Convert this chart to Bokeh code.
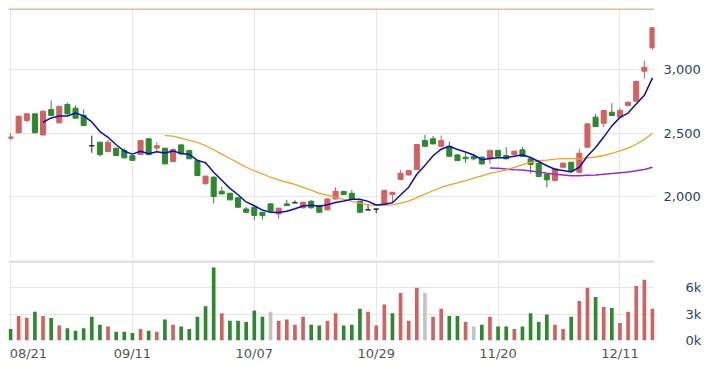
import numpy as np
import pandas as pd
from bokeh.plotting import figure
from bokeh.layouts import column
from bokeh.models import ColumnDataSource, FixedTicker, Span, Range1d, NumeralTickFormatter
from bokeh.embed import file_html
from bokeh.resources import INLINE

# ---------------- data ----------------
tick_idx = [0, 15, 30, 45, 60, 75]
tick_labels = ["08/21", "09/11", "10/07", "10/29", "11/20", "12/11"]

open_px = [2460, 2502, 2600, 2652, 2486, 2686, 2581, 2726, 2697, 2640,
           2400, 2428, 2355, 2381, 2362, 2322, 2331, 2455, 2382, 2381,
           2276, 2407, 2362, 2283, 2100, 2152, 2041, 2025, 1989, 1901,
           1915, 1875, 1941, 1862, 1941, 1950, 1910, 1962, 1928, 1894,
           1980, 2039, 2025, 1962, 1894, 1900, 1936, 2015, 2135, 2170,
           2212, 2441, 2455, 2396, 2396, 2328, 2310, 2317, 2310, 2297,
           2362, 2323, 2331, 2368, 2297, 2263, 2173, 2125, 2231, 2270,
           2191, 2389, 2626, 2578, 2665, 2626, 2718, 2752, 2989, 3174]
high_px = [2500, 2640, 2660, 2660, 2680, 2757, 2715, 2739, 2720, 2686,
           2480, 2432, 2447, 2385, 2381, 2330, 2445, 2460, 2428, 2385,
           2380, 2412, 2370, 2290, 2165, 2160, 2078, 2030, 1995, 1920,
           1920, 1880, 1950, 1910, 1973, 1968, 1958, 1970, 1932, 1985,
           2073, 2045, 2050, 1968, 1940, 1902, 2055, 2035, 2210, 2210,
           2412, 2486, 2478, 2481, 2434, 2332, 2344, 2335, 2315, 2365,
           2370, 2389, 2360, 2390, 2300, 2270, 2178, 2222, 2268, 2272,
           2376, 2578, 2652, 2685, 2736, 2700, 2750, 2915, 3073, 3335]
low_px = [2445, 2500, 2585, 2500, 2480, 2635, 2580, 2648, 2615, 2555,
          2345, 2315, 2350, 2320, 2300, 2280, 2328, 2325, 2355, 2255,
          2270, 2330, 2295, 2160, 2095, 1946, 2018, 1970, 1912, 1872,
          1815, 1818, 1880, 1823, 1925, 1950, 1905, 1905, 1872, 1890,
          1975, 2010, 1978, 1872, 1892, 1868, 1932, 1955, 2128, 2165,
          2208, 2392, 2412, 2392, 2315, 2280, 2265, 2285, 2250, 2257,
          2315, 2293, 2328, 2312, 2183, 2155, 2073, 2120, 2228, 2195,
          2188, 2385, 2548, 2547, 2636, 2620, 2712, 2748, 2929, 3158]
close_px = [2470, 2633, 2652, 2502, 2673, 2640, 2712, 2652, 2618, 2560,
            2400, 2330, 2428, 2323, 2305, 2285, 2441, 2330, 2400, 2257,
            2370, 2336, 2297, 2165, 2160, 2000, 2020, 1973, 1915, 1875,
            1850, 1849, 1883, 1907, 1928, 1950, 1954, 1910, 1875, 1980,
            2041, 2015, 1980, 1875, 1894, 1900, 2046, 2033, 2183, 2204,
            2410, 2396, 2415, 2441, 2317, 2283, 2298, 2297, 2257, 2362,
            2317, 2297, 2357, 2315, 2252, 2157, 2131, 2218, 2263, 2200,
            2341, 2573, 2552, 2678, 2640, 2678, 2744, 2908, 3021, 3332]
volume = [1300, 2800, 2600, 3260, 2800, 2550, 1700, 1400, 1100, 1400,
          2700, 1800, 1600, 1000, 1000, 860, 1300, 1100, 1000, 2400,
          1800, 1600, 1300, 2700, 3900, 8300, 3100, 2250, 2250, 2100,
          3400, 2700, 3260, 2250, 2400, 1800, 2700, 1800, 1700, 2250,
          3100, 1700, 1800, 3600, 3260, 1700, 4100, 3100, 5400, 2250,
          6000, 5400, 2700, 3600, 2800, 2800, 2100, 1600, 1800, 2700,
          1600, 1600, 1300, 1600, 3100, 2100, 2960, 1800, 1300, 2700,
          4500, 6000, 4950, 3800, 3700, 2000, 3260, 6200, 6900, 3600]
# r = up vs previous close, g = down, n = unchanged
vol_dir = list("grrgrgrggg" "ggrgggrgrg" "rgggggrggg" "ggnrrrrggr"
               "rgggrrrgrr" "rnrrggrngr" "ggrggggrrg" "rrgrgrrrrr")

upper_line = 3480
vol_ticks = [0, 3000, 6000]
vol_tick_labels = ["0k", "3k", "6k"]
price_ticks = [2000, 2500, 3000]

# ---------------- styles ----------------
RED = "#d4605f"
GREEN = "#2b8a2b"
BLACK = "#222222"
GRAY = "#c3c3c3"
GRID = "#e6e6e6"
FONT = "DejaVu Sans"

n = len(close_px)
idx = list(range(n))
cand_colors = [RED if c > o else (GREEN if c < o else BLACK) for o, c in zip(open_px, close_px)]
src = ColumnDataSource(dict(
    x=idx, o=open_px, h=high_px, l=low_px, c=close_px,
    top=[max(o, c) for o, c in zip(open_px, close_px)],
    bottom=[min(o, c) for o, c in zip(open_px, close_px)],
    color=cand_colors))

cs = pd.Series(close_px, dtype=float)
ma5 = cs.rolling(5).mean()
ma20 = cs.rolling(20).mean()
ma60 = cs.rolling(60).mean()

xr = Range1d(-0.25, 79.25)
W = 705

# ---------------- price panel ----------------
p = figure(width=W, height=258, x_range=xr, y_range=Range1d(1510, 3484),
           output_backend="svg", toolbar_location=None,
           x_axis_location=None, y_axis_location="right",
           min_border_left=8, min_border_right=51, min_border_top=8, min_border_bottom=0)
p.outline_line_color = None
p.background_fill_color = "white"
p.border_fill_color = "white"
p.xgrid.ticker = FixedTicker(ticks=tick_idx)
p.ygrid.ticker = FixedTicker(ticks=price_ticks)
p.grid.grid_line_color = GRID
p.grid.grid_line_width = 1

ax = p.yaxis[0]
ax.ticker = FixedTicker(ticks=price_ticks)
ax.formatter = NumeralTickFormatter(format="0,0")
ax.axis_line_color = None
ax.major_tick_line_color = None
ax.minor_tick_line_color = None
ax.major_tick_out = 0
ax.major_tick_in = 0
ax.minor_tick_out = 0
ax.major_label_standoff = 9
ax.major_label_text_font = FONT
ax.major_label_text_font_size = "13px"
ax.major_label_text_color = "#24466e"

p.add_layout(Span(location=upper_line, dimension="width", line_color="#c4ae82", line_width=1.5))

p.segment(x0="x", y0="l", x1="x", y1="h", line_color="color", line_width=1, source=src)
p.vbar(x="x", width=0.62, top="top", bottom="bottom", fill_color="color",
       line_color="color", line_width=1, source=src)

p.line(idx, ma60.values, line_color="#9a28d6", line_width=1.5)
p.line(idx, ma20.values, line_color="#f4a21e", line_width=1.3)
p.line(idx, ma5.values, line_color="#0c0cc4", line_width=1.5)

# ---------------- volume panel ----------------
vcolor_map = {"r": RED, "g": GREEN, "n": GRAY}
vsrc = ColumnDataSource(dict(x=idx, v=volume, color=[vcolor_map[d] for d in vol_dir]))

v = figure(width=W, height=106, x_range=xr, y_range=Range1d(0, 9100),
           output_backend="svg", toolbar_location=None,
           x_axis_location="below", y_axis_location="right",
           min_border_left=8, min_border_right=51, min_border_top=2, min_border_bottom=24)
v.outline_line_color = None
v.xgrid.ticker = FixedTicker(ticks=tick_idx)
v.ygrid.ticker = FixedTicker(ticks=[3000, 6000])
v.grid.grid_line_color = GRID
v.grid.grid_line_width = 1

v.vbar(x="x", width=0.45, top="v", bottom=0, fill_color="color", line_color=None, source=vsrc)
v.add_layout(Span(location=9100, dimension="width", line_color="#e2e2e2", line_width=5))

vax = v.yaxis[0]
vax.ticker = FixedTicker(ticks=vol_ticks)
vax.major_label_overrides = {t: s for t, s in zip(vol_ticks, vol_tick_labels)}
vax.axis_line_color = None
vax.major_tick_line_color = None
vax.minor_tick_line_color = None
vax.major_tick_out = 0
vax.major_tick_in = 0
vax.minor_tick_out = 0
vax.major_label_standoff = 31
vax.major_label_text_font = FONT
vax.major_label_text_font_size = "13px"
vax.major_label_text_color = "#24466e"

# first date label nudged inside the canvas, like the reference
label_pos = [2.2] + tick_idx[1:]
xax = v.xaxis[0]
xax.ticker = FixedTicker(ticks=label_pos)
xax.major_label_overrides = {t: s for t, s in zip(label_pos, tick_labels)}
xax.axis_line_color = None
xax.major_tick_line_color = None
xax.minor_tick_line_color = None
xax.major_tick_out = 0
xax.major_tick_in = 0
xax.minor_tick_out = 0
xax.major_label_standoff = 5
xax.major_label_text_font = FONT
xax.major_label_text_font_size = "13px"
xax.major_label_text_color = "#555555"

layout = column(p, v, spacing=0)
open("out.html", "w").write(file_html(layout, INLINE))
